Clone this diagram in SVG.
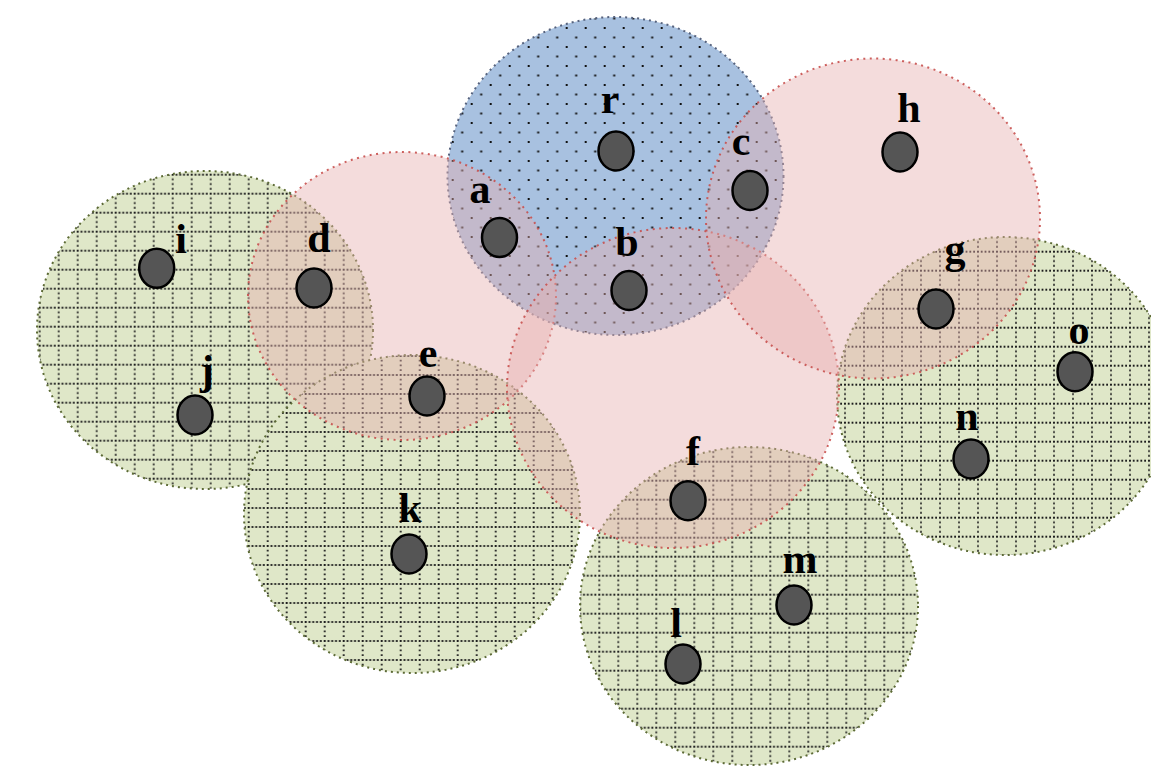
<svg xmlns="http://www.w3.org/2000/svg" xmlns:xlink="http://www.w3.org/1999/xlink" width="1151" height="773" viewBox="0 0 1151 773">
  <style>
    .green-fill { fill: #dfe7c8; }
    .green-edge { fill: none; stroke: #5c6a35; stroke-width: 2; stroke-dasharray: 2 4; }
    .blue-fill { fill: #a8c1e0; }
    .blue-edge { fill: none; stroke: #56627d; stroke-width: 2; stroke-dasharray: 2 4; }
    .pink { fill: rgb(230,175,175); fill-opacity: 0.44; stroke: #c8504e; stroke-width: 2; stroke-dasharray: 2 4.5; stroke-opacity: 0.9; }
    .node { fill: #555555; stroke: #000000; stroke-width: 2.5; }
    .label { font-family: "Liberation Serif", "Times New Roman", serif; font-weight: bold; font-size: 42px; fill: #000000; text-anchor: middle; }
  </style>
  <defs>
    <!-- dotted square grid used inside the green ranges -->
    <pattern id="grid" width="19" height="19" patternUnits="userSpaceOnUse">
      <line x1="0" y1="1" x2="19" y2="1" stroke="#1c1c1c" stroke-width="1.8" stroke-dasharray="1.8 2"/>
      <line x1="1" y1="0" x2="1" y2="19" stroke="#1c1c1c" stroke-width="1.8" stroke-dasharray="1.8 2.95"/>
    </pattern>
    <pattern id="grid-ij" href="#grid" xlink:href="#grid" x="0.7" y="2.7"/>
    <pattern id="grid-k" href="#grid" xlink:href="#grid" x="0.7" y="13"/>
    <pattern id="grid-lm" href="#grid" xlink:href="#grid" x="9.3" y="4.7"/>
    <pattern id="grid-no" href="#grid" xlink:href="#grid" x="8" y="3.7"/>
    <!-- staggered dots used inside the blue range -->
    <pattern id="dots" width="19" height="19" patternUnits="userSpaceOnUse" x="14.7" y="8">
      <rect x="0" y="0" width="2" height="2" fill="#111"/>
      <rect x="9.5" y="9.5" width="2" height="2" fill="#111"/>
    </pattern>
  </defs>

  <!-- green ranges -->
  <g id="range-ij">
    <ellipse class="green-fill" cx="205" cy="330" rx="168" ry="159"/>
    <ellipse cx="205" cy="330" rx="168" ry="159" fill="url(#grid-ij)"/>
    <ellipse class="green-edge" cx="205" cy="330" rx="168" ry="159"/>
  </g>
  <g id="range-k">
    <ellipse class="green-fill" cx="412" cy="514" rx="168" ry="159"/>
    <ellipse cx="412" cy="514" rx="168" ry="159" fill="url(#grid-k)"/>
    <ellipse class="green-edge" cx="412" cy="514" rx="168" ry="159"/>
  </g>
  <g id="range-lm">
    <ellipse class="green-fill" cx="749" cy="606" rx="169" ry="159"/>
    <ellipse cx="749" cy="606" rx="169" ry="159" fill="url(#grid-lm)"/>
    <ellipse class="green-edge" cx="749" cy="606" rx="169" ry="159"/>
  </g>
  <g id="range-no">
    <ellipse class="green-fill" cx="1005" cy="396" rx="168" ry="159"/>
    <ellipse cx="1005" cy="396" rx="168" ry="159" fill="url(#grid-no)"/>
    <ellipse class="green-edge" cx="1005" cy="396" rx="168" ry="159"/>
  </g>

  <!-- blue range -->
  <g id="range-r">
    <ellipse class="blue-fill" cx="615.5" cy="176" rx="168" ry="159"/>
    <ellipse cx="615.5" cy="176" rx="168" ry="159" fill="url(#dots)"/>
    <ellipse class="blue-edge" cx="615.5" cy="176" rx="168" ry="159"/>
  </g>

  <!-- pink ranges -->
  <g id="range-de">
    <ellipse class="pink" cx="402" cy="296" rx="154" ry="144"/>
  </g>
  <g id="range-bf">
    <ellipse class="pink" cx="673" cy="388" rx="166" ry="160"/>
  </g>
  <g id="range-ch">
    <ellipse class="pink" cx="873" cy="218.5" rx="167" ry="160"/>
  </g>

  <!-- no links between nodes -->
  <g id="connectors"/>

  <!-- nodes -->
  <g id="node-r"><ellipse class="node" cx="616" cy="151" rx="17.5" ry="19.5"/><text class="label" x="610" y="113">r</text></g>
  <g id="node-a"><ellipse class="node" cx="499.5" cy="237.5" rx="17.5" ry="19.5"/><text class="label" x="480" y="203">a</text></g>
  <g id="node-b"><ellipse class="node" cx="629" cy="290.5" rx="17.5" ry="19.5"/><text class="label" x="627" y="256">b</text></g>
  <g id="node-c"><ellipse class="node" cx="750" cy="190.5" rx="17.5" ry="19.5"/><text class="label" x="741" y="155">c</text></g>
  <g id="node-h"><ellipse class="node" cx="900" cy="152" rx="17.5" ry="19.5"/><text class="label" x="909" y="122">h</text></g>
  <g id="node-d"><ellipse class="node" cx="314" cy="288" rx="17.5" ry="19.5"/><text class="label" x="319" y="252">d</text></g>
  <g id="node-i"><ellipse class="node" cx="156.7" cy="268.3" rx="17.5" ry="19.5"/><text class="label" x="181" y="253">i</text></g>
  <g id="node-j"><ellipse class="node" cx="195" cy="415" rx="17.5" ry="19.5"/><text class="label" x="207" y="384">j</text></g>
  <g id="node-e"><ellipse class="node" cx="427" cy="396" rx="17.5" ry="19.5"/><text class="label" x="428" y="367">e</text></g>
  <g id="node-k"><ellipse class="node" cx="409" cy="554" rx="17.5" ry="19.5"/><text class="label" x="410" y="522">k</text></g>
  <g id="node-f"><ellipse class="node" cx="688" cy="500.7" rx="17.5" ry="19.5"/><text class="label" x="693" y="465">f</text></g>
  <g id="node-g"><ellipse class="node" cx="936" cy="309" rx="17.5" ry="19.5"/><text class="label" x="955" y="263">g</text></g>
  <g id="node-o"><ellipse class="node" cx="1075" cy="371.7" rx="17.5" ry="19.5"/><text class="label" x="1079" y="344">o</text></g>
  <g id="node-n"><ellipse class="node" cx="971" cy="459" rx="17.5" ry="19.5"/><text class="label" x="967" y="430">n</text></g>
  <g id="node-m"><ellipse class="node" cx="794" cy="605" rx="17.5" ry="19.5"/><text class="label" x="800" y="573">m</text></g>
  <g id="node-l"><ellipse class="node" cx="683" cy="664" rx="17.5" ry="19.5"/><text class="label" x="676" y="637">l</text></g>
</svg>
